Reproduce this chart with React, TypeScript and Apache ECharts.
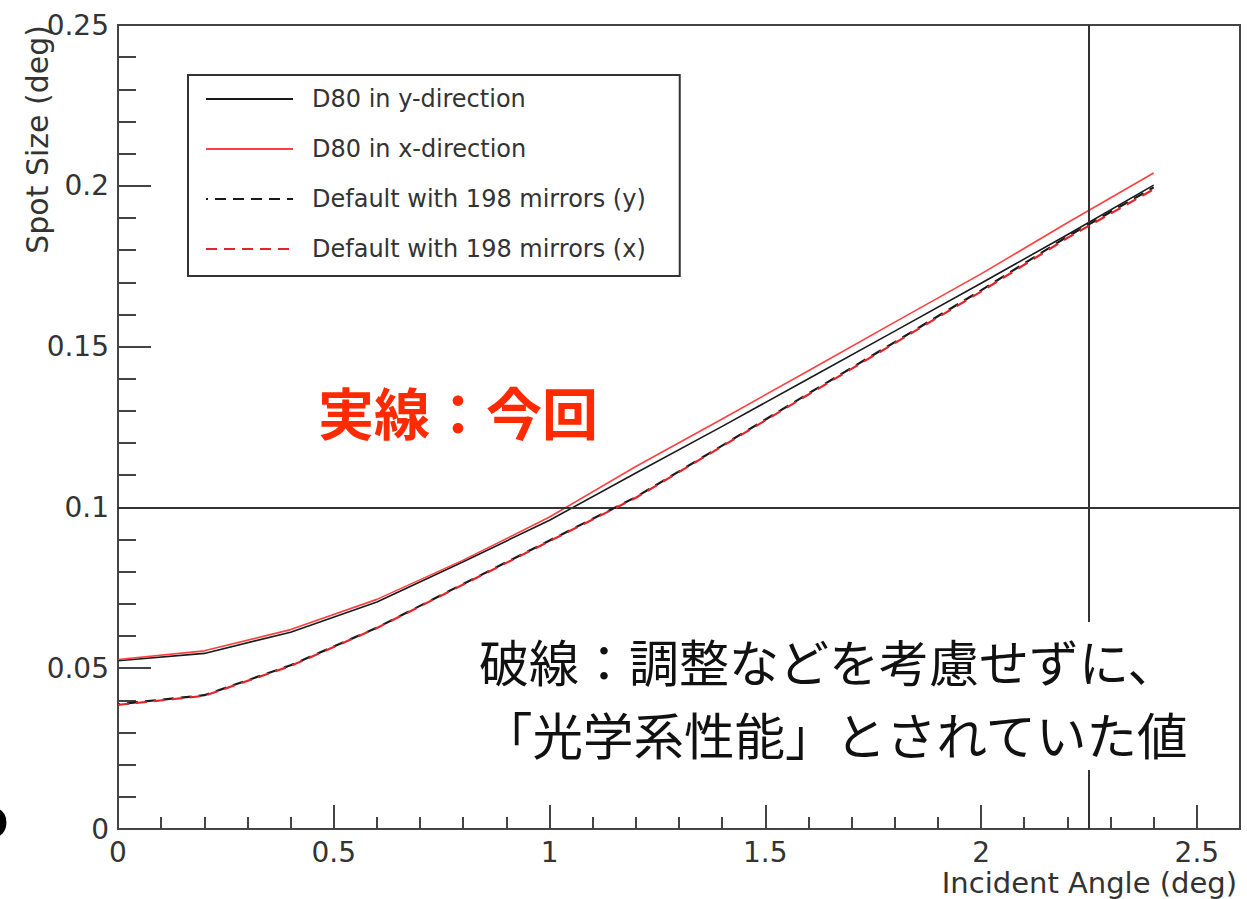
import React, { useEffect, useRef } from "react";
import * as echarts from "echarts";

// Incident angle (deg)
const angles = [0, 0.2, 0.4, 0.6, 0.8, 1.0, 1.2, 1.4, 1.6, 1.8, 2.0, 2.2, 2.4];
// Spot size (deg)
const d80Y = [0.0523, 0.0546, 0.0612, 0.0706, 0.0831, 0.0960, 0.1107, 0.1252, 0.1400, 0.1548, 0.1697, 0.1848, 0.2002];
const d80X = [0.0527, 0.0554, 0.0620, 0.0714, 0.0836, 0.0970, 0.1127, 0.1275, 0.1425, 0.1576, 0.1726, 0.1885, 0.2040];
const defaultY = [0.0388, 0.0416, 0.0509, 0.0626, 0.0762, 0.0897, 0.1032, 0.1192, 0.1354, 0.1514, 0.1675, 0.1842, 0.1995];
const defaultX = [0.0386, 0.0414, 0.0507, 0.0625, 0.0760, 0.0895, 0.1030, 0.1190, 0.1351, 0.1511, 0.1671, 0.1838, 0.1989];

const seriesNames = [
  "D80 in y-direction",
  "D80 in x-direction",
  "Default with 198 mirrors (y)",
  "Default with 198 mirrors (x)",
];

const refAngle = 2.25;
const refSize = 0.1;

const xTicks = { min: 0, max: 2.6, interval: 0.5 };
const yTicks = { min: 0, max: 0.25, interval: 0.05 };

const latin = "DejaVu Sans";
const cjk = "Noto Sans CJK JP";

const toPairs = (ys: number[]) => angles.map((x, i) => [x, ys[i]]);

export default function App() {
  const ref = useRef<HTMLDivElement>(null);
  useEffect(() => {
    if (!ref.current) return;
    const chart = echarts.init(ref.current, null, { renderer: "svg" });
    const axisColor = "#444";
    const labelColor = "#333";
    chart.setOption({
      animation: false,
      backgroundColor: "#fff",
      grid: {
        left: 118,
        top: 25,
        right: 7,
        bottom: 70,
        show: true,
        borderColor: axisColor,
        borderWidth: 2,
        backgroundColor: "transparent",
      },
      xAxis: {
        type: "value",
        min: xTicks.min,
        max: xTicks.max,
        interval: xTicks.interval,
        axisLine: { show: true, lineStyle: { color: axisColor, width: 2 } },
        axisTick: { show: true, inside: true, length: 24, lineStyle: { color: axisColor, width: 2 } },
        minorTick: { show: true, splitNumber: 5, length: 12, lineStyle: { color: axisColor, width: 2 } },
        splitLine: { show: false },
        minorSplitLine: { show: false },
        axisLabel: {
          showMaxLabel: false,
          margin: 9,
          fontSize: 28,
          fontFamily: latin,
          color: labelColor,
        },
      },
      yAxis: {
        type: "value",
        min: yTicks.min,
        max: yTicks.max,
        interval: yTicks.interval,
        axisLine: { show: true, lineStyle: { color: axisColor, width: 2 } },
        axisTick: { show: true, inside: true, length: 33, lineStyle: { color: axisColor, width: 2 } },
        minorTick: { show: true, splitNumber: 5, length: 18, lineStyle: { color: axisColor, width: 2 } },
        splitLine: { show: false },
        minorSplitLine: { show: false },
        axisLabel: {
          margin: 9,
          fontSize: 28,
          fontFamily: latin,
          color: labelColor,
        },
      },
      legend: {
        orient: "vertical",
        left: 188,
        top: 75,
        data: seriesNames,
        itemWidth: 87,
        itemHeight: 30,
        itemGap: 20,
        padding: [9, 34, 12, 17],
        backgroundColor: "#fff",
        borderColor: "#333",
        borderWidth: 2,
        borderRadius: 0,
        itemStyle: { opacity: 0, borderWidth: 0 },
        textStyle: {
          fontFamily: latin,
          fontSize: 24,
          color: "#333",
          lineHeight: 30,
          padding: [0, 0, 0, 14],
        },
        z: 20,
      },
      series: [
        {
          name: seriesNames[0],
          type: "line",
          data: toPairs(d80Y),
          symbol: "none",
          lineStyle: { color: "#1a1a1a", width: 1.6, type: "solid" },
          itemStyle: { color: "#1a1a1a" },
          z: 3,
          markLine: {
            silent: true,
            symbol: ["none", "none"],
            label: { show: false },
            lineStyle: { color: "#333", width: 2, type: "solid" },
            data: [{ xAxis: refAngle }, { yAxis: refSize }],
          },
        },
        {
          name: seriesNames[1],
          type: "line",
          data: toPairs(d80X),
          symbol: "none",
          lineStyle: { color: "#ff4040", width: 1.6, type: "solid" },
          itemStyle: { color: "#ff4040" },
          z: 4,
        },
        {
          name: seriesNames[2],
          type: "line",
          data: toPairs(defaultY),
          symbol: "none",
          lineStyle: { color: "#1a1a1a", width: 2.2, type: [11, 7], dashOffset: 9 },
          itemStyle: { color: "#1a1a1a" },
          z: 5,
        },
        {
          name: seriesNames[3],
          type: "line",
          data: toPairs(defaultX),
          symbol: "none",
          lineStyle: { color: "#e0262b", width: 2.2, type: [11, 7], dashOffset: 0 },
          itemStyle: { color: "#e0262b" },
          z: 6,
        },
      ],
      graphic: [
        {
          type: "text",
          x: 37,
          y: 25,
          rotation: Math.PI / 2,
          style: {
            text: "Spot Size (deg)",
            font: `30px "${latin}"`,
            fill: labelColor,
            align: "right",
            verticalAlign: "middle",
          },
          z: 30,
        },
        {
          type: "text",
          x: 1237,
          y: 883,
          style: {
            text: "Incident Angle (deg)",
            font: `29px "${latin}"`,
            fill: labelColor,
            align: "right",
            verticalAlign: "middle",
          },
          z: 30,
        },
        {
          type: "text",
          x: 318,
          y: 410,
          style: {
            text: "実線：今回",
            font: `bold 56px "${cjk}"`,
            fill: "#ff2a00",
            align: "left",
            verticalAlign: "middle",
          },
          z: 30,
        },
        {
          type: "rect",
          shape: { x: 468, y: 622, width: 740, height: 148 },
          style: { fill: "#fff" },
          z: 40,
        },
        {
          type: "text",
          x: 479,
          y: 660,
          style: {
            text: "破線：調整などを考慮せずに、",
            font: `50px "${cjk}"`,
            fill: "#111",
            align: "left",
            verticalAlign: "middle",
          },
          z: 41,
        },
        {
          type: "text",
          x: 482,
          y: 733,
          style: {
            text: "「光学系性能」とされていた値",
            font: `50.5px "${cjk}"`,
            fill: "#111",
            align: "left",
            verticalAlign: "middle",
          },
          z: 41,
        },
        {
          type: "text",
          x: 9,
          y: 816,
          style: {
            text: "o",
            font: `bold 54px "Noto Sans"`,
            fill: "#000",
            align: "right",
            verticalAlign: "middle",
          },
          z: 41,
        },
      ],
    });
    return () => chart.dispose();
  }, []);
  return (
    <div
      ref={ref}
      style={{ position: "absolute", left: 0, top: 0, width: 1247, height: 899 }}
    />
  );
}
